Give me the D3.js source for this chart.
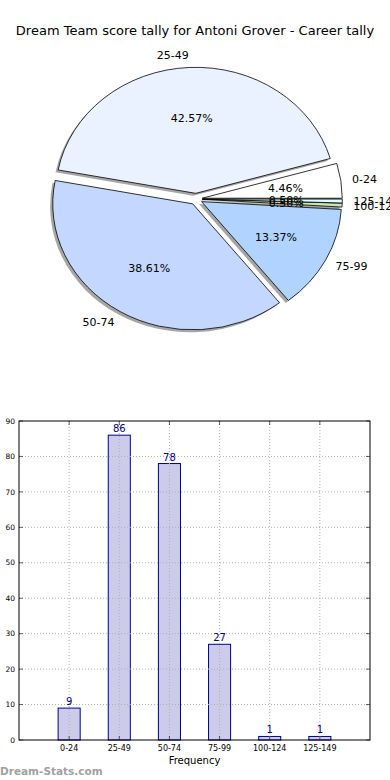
<!DOCTYPE html>
<html>
<head>
<meta charset="utf-8">
<script src="https://cdn.jsdelivr.net/npm/d3@7"></script>
<style>
  body { margin: 0; background: #fff; }
  svg { display: block; font-family: "DejaVu Sans", sans-serif; }
</style>
</head>
<body>
<svg id="chart" width="390" height="780"></svg>
<script>
// score ranges and how many games fell in each
const categories = ['0-24', '25-49', '50-74', '75-99', '100-124', '125-149'];
const counts = [9, 86, 78, 27, 1, 1];
const sliceColors = ['#ffffff', '#eaf2ff', '#c4d8ff', '#b0d4ff', '#c8e6b4', '#e0ffff'];
const yTicks = [0, 10, 20, 30, 40, 50, 60, 70, 80, 90];

const svg = d3.select('#chart');

svg.append('text')
  .attr('x', 195).attr('y', 35)
  .attr('text-anchor', 'middle')
  .attr('font-size', 13)
  .text('Dream Team score tally for Antoni Grover - Career tally');

// ---- pie (elliptical, matplotlib style: starts at 3 o'clock, counter-clockwise)
const cx = 196, cy = 199, rx = 140, ry = 126, explode = 0.045;
const total = d3.sum(counts);

const slices = d3.pie().sort(null).startAngle(0).endAngle(2 * Math.PI)(counts);
const arc = d3.arc().innerRadius(0).outerRadius(rx);

const pie = svg.append('g');

const wedge = slices.map((s, i) => {
  const mid = (s.startAngle + s.endAngle) / 2;
  return {
    i,
    t1: s.startAngle,
    t2: s.endAngle,
    mid,
    ox: cx + explode * rx * Math.cos(mid),
    oy: cy - explode * ry * Math.sin(mid)
  };
});

function wedgePath(d) {
  // math angle (ccw from east) -> d3 angle (cw from north)
  return arc({ startAngle: Math.PI / 2 - d.t2, endAngle: Math.PI / 2 - d.t1 });
}

// shadows under everything
pie.selectAll('path.shadow')
  .data(wedge)
  .join('path')
  .attr('class', 'shadow')
  .attr('d', wedgePath)
  .attr('transform', d => `translate(${d.ox - 2.6},${d.oy + 2.4}) scale(1,${ry / rx})`)
  .attr('fill', '#4d4d4d')
  .attr('fill-opacity', 0.5);

pie.selectAll('path.wedge')
  .data(wedge)
  .join('path')
  .attr('class', 'wedge')
  .attr('d', wedgePath)
  .attr('transform', d => `translate(${d.ox},${d.oy}) scale(1,${ry / rx})`)
  .attr('fill', d => sliceColors[d.i])
  .attr('stroke', '#000')
  .attr('stroke-width', 0.8)
  .attr('vector-effect', 'non-scaling-stroke');

pie.selectAll('text.lbl')
  .data(wedge)
  .join('text')
  .attr('class', 'lbl')
  .attr('x', d => d.ox + 1.08 * rx * Math.cos(d.mid))
  .attr('y', d => d.oy - 1.1 * ry * Math.sin(d.mid))
  .attr('dy', '0.35em')
  .attr('text-anchor', d => Math.cos(d.mid) > 0 ? 'start' : 'end')
  .attr('font-size', 11)
  .text(d => categories[d.i]);

pie.selectAll('text.pct')
  .data(wedge)
  .join('text')
  .attr('class', 'pct')
  .attr('x', d => d.ox + 0.6 * rx * Math.cos(d.mid))
  .attr('y', d => d.oy - 0.6 * ry * Math.sin(d.mid))
  .attr('dy', '0.35em')
  .attr('text-anchor', 'middle')
  .attr('font-size', 11)
  .text(d => (counts[d.i] / total * 100).toFixed(2) + '%');

// ---- bar chart
const plotL = 19, plotR = 370, plotT = 421, plotB = 740;

const x = d3.scaleLinear().domain([-1, 6]).range([plotL, plotR]);
const y = d3.scaleLinear().domain([0, 90]).range([plotB, plotT]);
const barW = 0.44;

const bars = svg.append('g');

bars.selectAll('rect')
  .data(counts)
  .join('rect')
  .attr('x', (d, i) => x(i - barW / 2))
  .attr('y', d => y(d))
  .attr('width', x(barW) - x(0))
  .attr('height', d => y(0) - y(d))
  .attr('fill', '#ccccea')
  .attr('stroke', '#00008b')
  .attr('stroke-width', 1);

// dotted grid
const grid = svg.append('g')
  .attr('stroke', '#b0b0b0')
  .attr('stroke-width', 1)
  .attr('stroke-dasharray', '1,2');

grid.selectAll('line.h')
  .data(yTicks.slice(1, -1))
  .join('line')
  .attr('x1', plotL).attr('x2', plotR)
  .attr('y1', d => y(d)).attr('y2', d => y(d));

grid.selectAll('line.v')
  .data(categories)
  .join('line')
  .attr('x1', (d, i) => x(i)).attr('x2', (d, i) => x(i))
  .attr('y1', plotT).attr('y2', plotB);

// frame
svg.append('rect')
  .attr('x', plotL).attr('y', plotT)
  .attr('width', plotR - plotL).attr('height', plotB - plotT)
  .attr('fill', 'none')
  .attr('stroke', '#000')
  .attr('stroke-width', 1);

// inward ticks, both sides
const ticks = svg.append('g').attr('stroke', '#000').attr('stroke-width', 0.6);
yTicks.forEach(t => {
  ticks.append('line').attr('x1', plotL).attr('x2', plotL + 4).attr('y1', y(t)).attr('y2', y(t));
  ticks.append('line').attr('x1', plotR).attr('x2', plotR - 4).attr('y1', y(t)).attr('y2', y(t));
});
categories.forEach((c, i) => {
  ticks.append('line').attr('x1', x(i)).attr('x2', x(i)).attr('y1', plotB).attr('y2', plotB - 4);
  ticks.append('line').attr('x1', x(i)).attr('x2', x(i)).attr('y1', plotT).attr('y2', plotT + 4);
});

svg.append('g')
  .selectAll('text')
  .data(yTicks)
  .join('text')
  .attr('x', plotL - 4)
  .attr('y', d => y(d))
  .attr('dy', '0.35em')
  .attr('text-anchor', 'end')
  .attr('font-size', 7.5)
  .text(d => d);

svg.append('g')
  .selectAll('text')
  .data(categories)
  .join('text')
  .attr('x', (d, i) => x(i))
  .attr('y', plotB + 11)
  .attr('text-anchor', 'middle')
  .attr('font-size', 8)
  .text(d => d);

svg.append('g')
  .selectAll('text')
  .data(counts)
  .join('text')
  .attr('x', (d, i) => x(i))
  .attr('y', d => y(d) - 3)
  .attr('text-anchor', 'middle')
  .attr('font-size', 10)
  .attr('fill', '#00008b')
  .text(d => d);

svg.append('text')
  .attr('x', (plotL + plotR) / 2).attr('y', plotB + 24)
  .attr('text-anchor', 'middle')
  .attr('font-size', 10)
  .text('Frequency');

svg.append('text')
  .attr('x', 0).attr('y', 775)
  .attr('font-size', 10.5)
  .attr('font-weight', 'bold')
  .attr('fill', '#a0a0a0')
  .text('Dream-Stats.com');
</script>
</body>
</html>
